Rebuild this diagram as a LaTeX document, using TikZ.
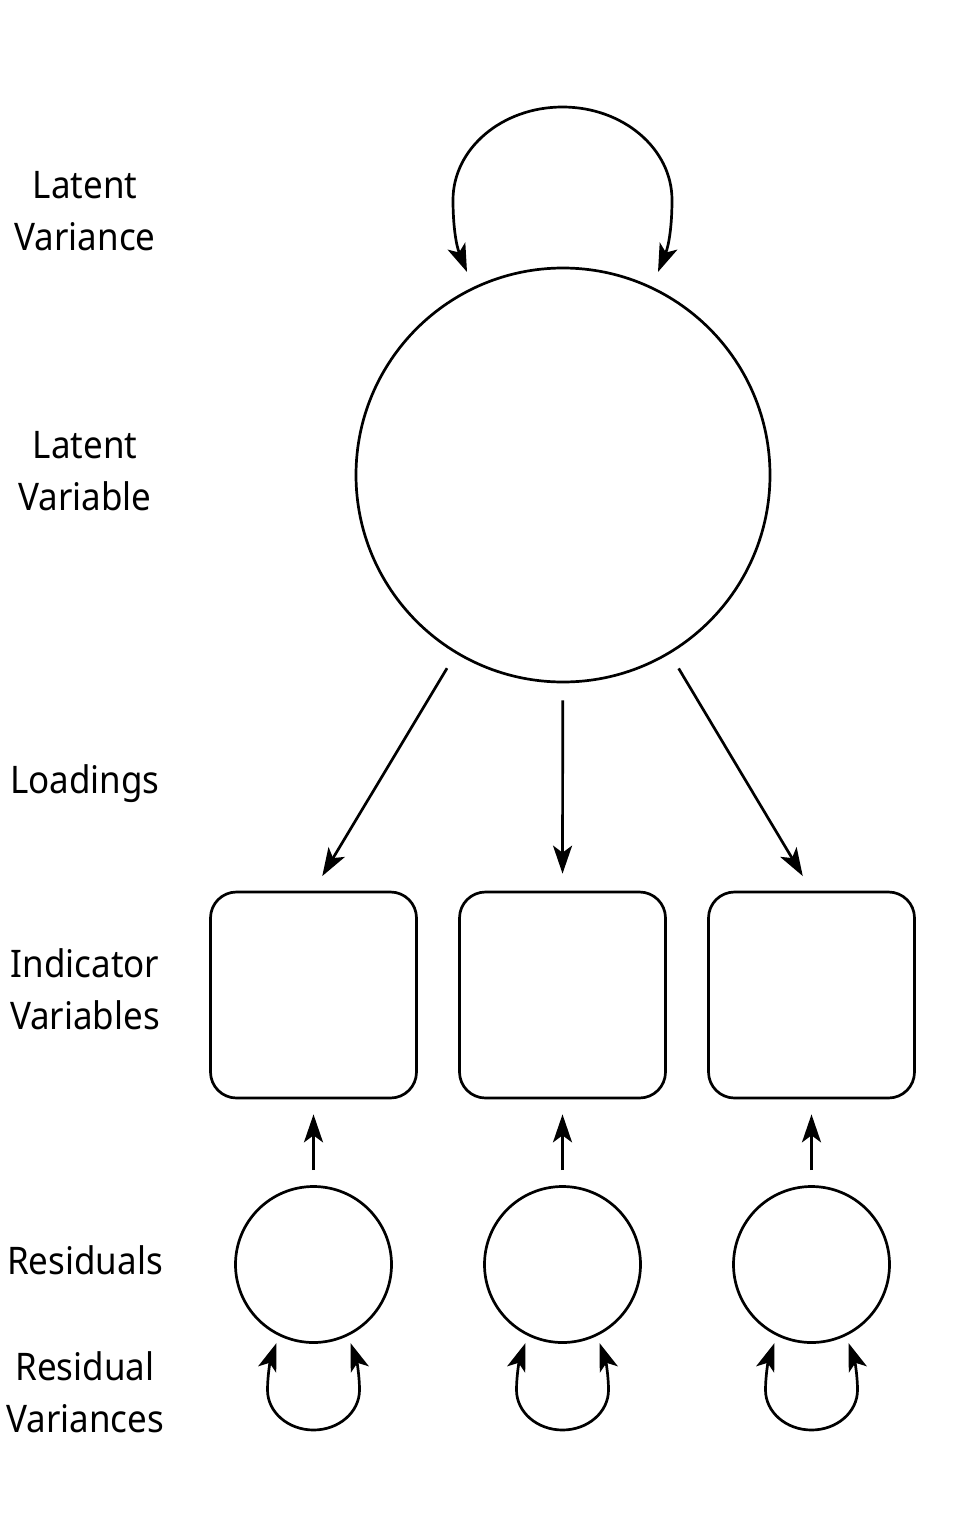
\documentclass[tikz,border=0pt]{standalone}
\usepackage{fontspec}
\setmainfont{Noto Sans}[FakeStretch=0.92]
\usetikzlibrary{arrows.meta}
\newcommand{\twolines}[2]{\begin{tabular}[t]{@{}c@{}}#1\\#2\end{tabular}}
\begin{document}
\begin{tikzpicture}[x=1pt,y=-1pt,line width=2.7pt,
  myarrow/.style={-{Stealth[length=28pt,width=19pt,inset=7pt]}},
  bothtips/.style={{Stealth[length=28pt,width=19pt,inset=7pt]}-{Stealth[length=28pt,width=19pt,inset=7pt]}},
  latent/.style={circle,draw,minimum size=414pt,inner sep=0pt},
  resid/.style={circle,draw,minimum size=156pt,inner sep=0pt},
  indic/.style={rectangle,draw,rounded corners=26pt,minimum width=206pt,minimum height=206pt,inner sep=0pt},
  lbl/.style={anchor=base,inner sep=0pt,font=\fontsize{38}{52}\selectfont}]
\useasboundingbox[fill=white] (0,0) rectangle (960,1536);

% labels
\node[lbl] (tLV) at (85,198) {\twolines{Latent}{Variance}};
\node[lbl] (tLVar) at (85,458) {\twolines{Latent}{Variable}};
\node[lbl] (tLoad) at (85,793) {Loadings};
\node[lbl] (tInd) at (85,977) {\twolines{Indicator}{Variables}};
\node[lbl] (tRes) at (85,1274) {Residuals};
\node[lbl] (tRV) at (85,1380) {\twolines{Residual}{Variances}};

% latent variable
\node[latent] (lv) at (563,475) {};
\coordinate (tl) at (467,272);
\coordinate (tr) at (658,272);
\draw[bothtips] (tl) .. controls (456,245) and (453,225) .. (453,200)
  .. controls (453,148.6) and (502,107) .. (562.5,107)
  .. controls (623,107) and (672,148.6) .. (672,200)
  .. controls (672,225) and (669,245) .. (tr);

% indicators, residuals
\foreach \i/\x in {1/313.5,2/562.5,3/811.5}{
  \node[indic] (b\i) at (\x,995) {};
  \node[resid] (r\i) at (\x,1264.5) {};
  \draw[myarrow,shorten <=17pt,shorten >=17pt] (lv) -- (b\i.north);
  \draw[myarrow,shorten <=15pt,shorten >=15pt] (r\i) -- (b\i);
  \coordinate (bl\i) at (\x-37,1343);
  \coordinate (br\i) at (\x+37,1343);
  \draw[bothtips] (bl\i) .. controls (\x-43,1360) and (\x-46,1375) .. (\x-46,1390)
    .. controls (\x-46,1412.1) and (\x-25.4,1430) .. (\x,1430)
    .. controls (\x+25.4,1430) and (\x+46,1412.1) .. (\x+46,1390)
    .. controls (\x+46,1375) and (\x+43,1360) .. (br\i);
}
\end{tikzpicture}
\end{document}
